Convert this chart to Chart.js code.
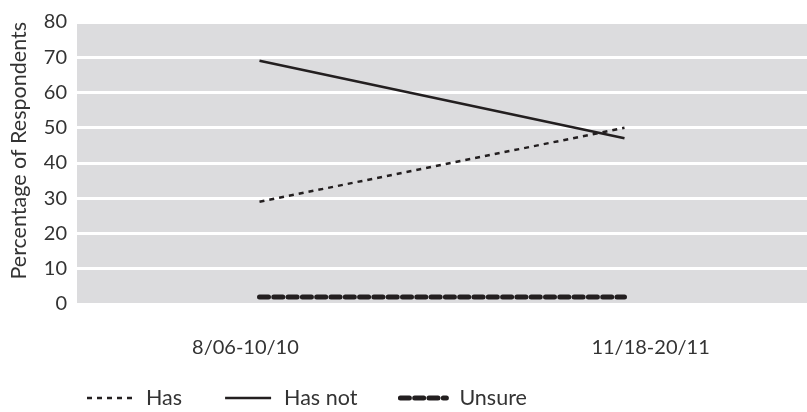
<!DOCTYPE html>
<html>
<head>
<meta charset="utf-8">
<script src="https://cdn.jsdelivr.net/npm/chart.js@4"></script>
<style>
  html, body { margin: 0; padding: 0; background: #ffffff; }
  #wrap { width: 807px; height: 412px; position: relative; }
</style>
</head>
<body>
<div id="wrap"><canvas id="chart"></canvas></div>
<script>
// Survey periods
const categories = ['8/06-10/10', '11/18-20/11'];
// Share of respondents per answer (%)
const hasValues = [29, 50];
const hasNotValues = [69, 47];
const unsureValues = [2, 2];
// Y axis range and tick step
const yMin = 0, yMax = 80, yStep = 10;

const ink = '#231f20';
const textColor = '#333333';
const fontFamily = 'Lato, "Open Sans", sans-serif';
const tickFont = { family: fontFamily, size: 20 };
const titleFont = { family: fontFamily, size: 21.5 };
const legendFontSize = 21.5;

// Gray plot background behind the grid
const plotBackground = {
  id: 'plotBackground',
  beforeDraw(chart) {
    const { ctx, chartArea } = chart;
    ctx.save();
    ctx.fillStyle = '#dcdcde';
    ctx.fillRect(chartArea.left, chartArea.top, chartArea.right - chartArea.left, chartArea.bottom - chartArea.top);
    ctx.restore();
  }
};

// Legend row under the axis: a line sample in each series' own stroke style, then its name
const lineLegend = {
  id: 'lineLegend',
  afterDraw(chart, args, opts) {
    const { ctx } = chart;
    const y = opts.y;
    let x = opts.x;
    ctx.save();
    ctx.font = legendFontSize + 'px ' + fontFamily;
    ctx.textBaseline = 'middle';
    chart.data.datasets.forEach((ds) => {
      ctx.save();
      ctx.strokeStyle = ds.borderColor;
      ctx.lineWidth = ds.borderWidth;
      ctx.lineCap = ds.borderCapStyle || 'butt';
      ctx.setLineDash(ds.borderDash || []);
      ctx.beginPath();
      ctx.moveTo(x, y);
      ctx.lineTo(x + opts.sampleWidth, y);
      ctx.stroke();
      ctx.restore();
      ctx.fillStyle = textColor;
      const tx = x + opts.sampleWidth + opts.textGap;
      ctx.fillText(ds.label, tx, y);
      x = tx + ctx.measureText(ds.label).width + opts.itemGap;
    });
    ctx.restore();
  }
};

// Spread the period labels a little wider than the plotted points
function spreadTickLabels(scale) {
  const base = scale.getPixelForValue.bind(scale);
  scale.getPixelForTick = function (index) {
    const mid = (scale.left + scale.right) / 2;
    const p = base(index);
    return mid + (p - mid) * 1.11 + 6;
  };
}

new Chart(document.getElementById('chart'), {
  type: 'line',
  data: {
    labels: categories,
    datasets: [
      {
        label: 'Has',
        data: hasValues,
        borderColor: ink,
        borderWidth: 2.5,
        borderDash: [5, 5],
        pointRadius: 0,
        tension: 0
      },
      {
        label: 'Has not',
        data: hasNotValues,
        borderColor: ink,
        borderWidth: 2.5,
        pointRadius: 0,
        tension: 0
      },
      {
        label: 'Unsure',
        data: unsureValues,
        borderColor: ink,
        borderWidth: 5,
        borderDash: [9, 5.3],
        borderCapStyle: 'round',
        pointRadius: 0,
        tension: 0
      }
    ]
  },
  options: {
    responsive: true,
    maintainAspectRatio: false,
    animation: false,
    layout: { padding: { top: 7, right: 0, bottom: 20, left: 4 } },
    plugins: {
      tooltip: { enabled: false },
      legend: { display: false },
      lineLegend: { x: 87, y: 398, sampleWidth: 46, textGap: 13, itemGap: 43 }
    },
    scales: {
      x: {
        offset: true,
        grid: { display: false, drawTicks: false },
        border: { display: false },
        afterUpdate: spreadTickLabels,
        ticks: {
          color: textColor,
          padding: 32,
          font: tickFont
        }
      },
      y: {
        min: yMin,
        max: yMax,
        grid: { color: '#ffffff', lineWidth: 3, drawTicks: false },
        border: { display: false },
        ticks: {
          stepSize: yStep,
          color: textColor,
          padding: 10,
          font: tickFont
        },
        title: {
          display: true,
          align: 'end',
          text: 'Percentage of Respondents',
          color: textColor,
          padding: { top: 2, bottom: 2 },
          font: titleFont
        }
      }
    }
  },
  plugins: [plotBackground, lineLegend]
});
</script>
</body>
</html>
